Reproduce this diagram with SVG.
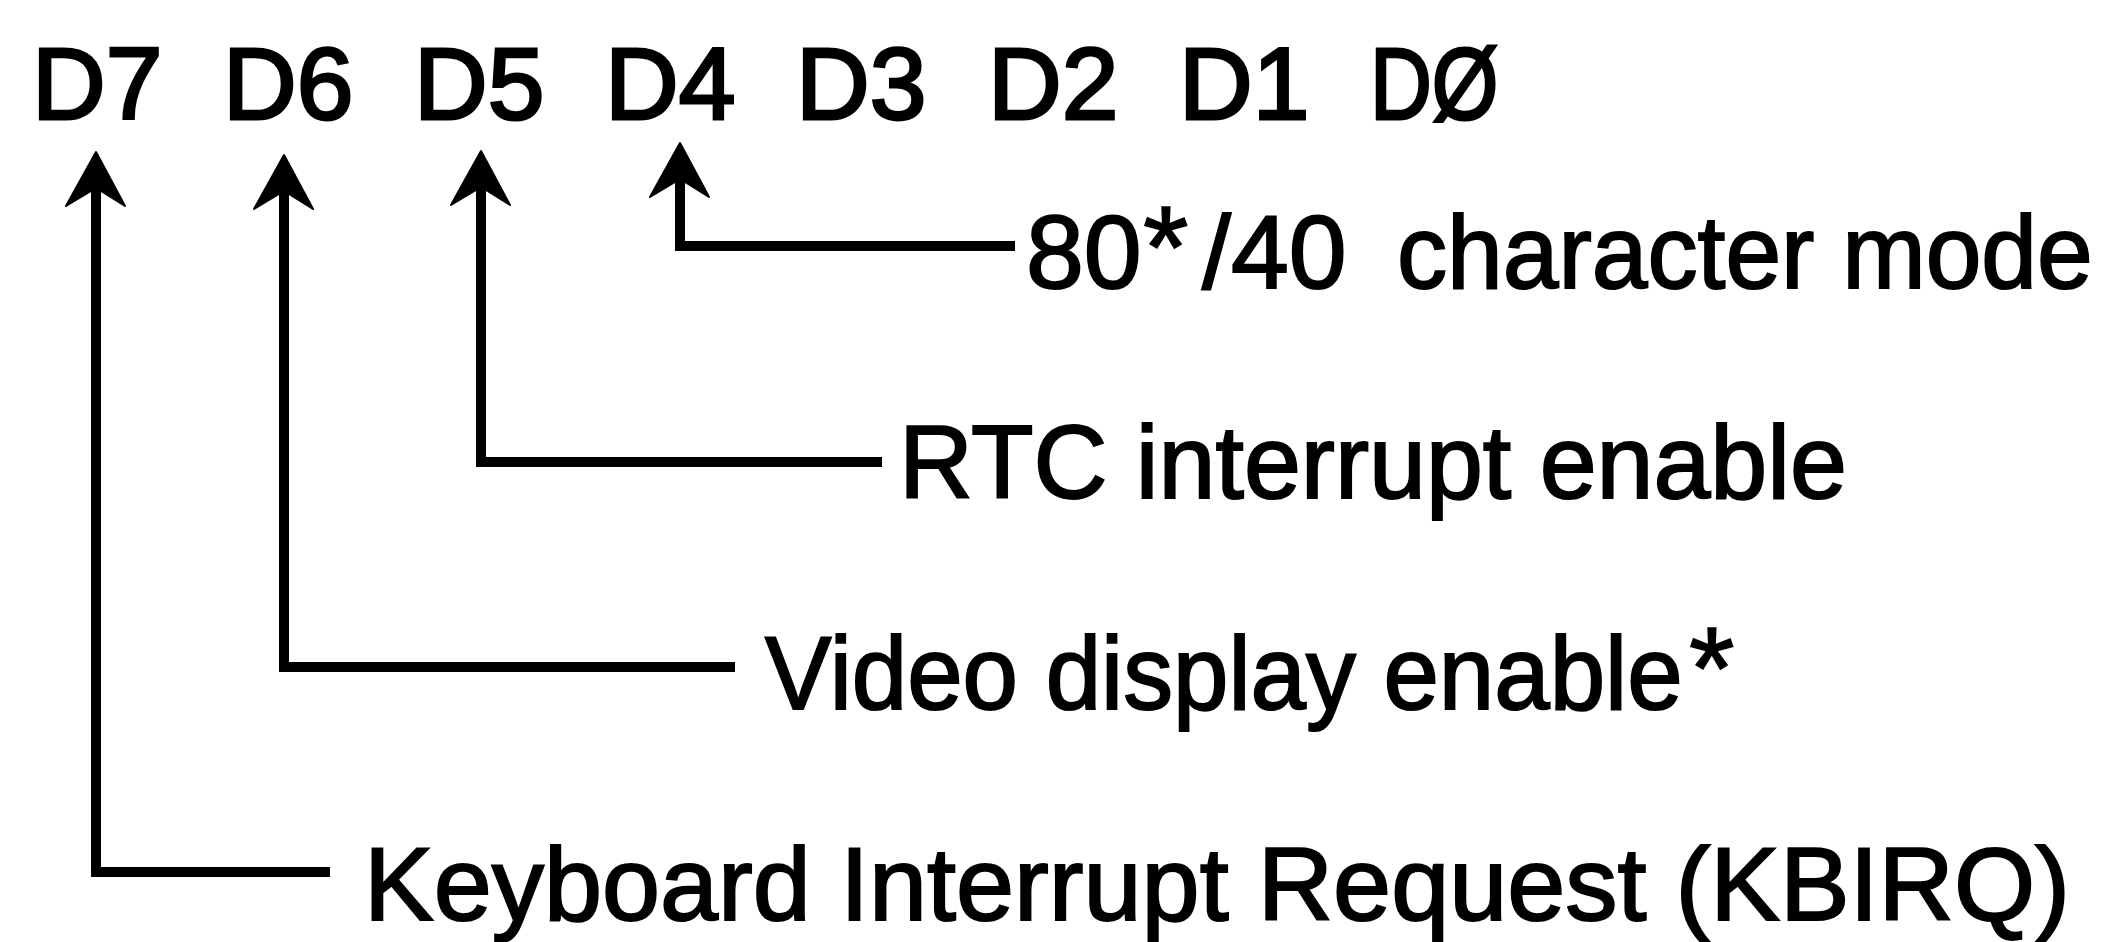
<svg xmlns="http://www.w3.org/2000/svg" xmlns:xlink="http://www.w3.org/1999/xlink" width="2106" height="942" viewBox="0 0 2106 942">
  <style>
    .conn { fill: none; stroke: #000; stroke-width: 10; stroke-linejoin: miter; stroke-linecap: butt; }
    .head { fill: #000; stroke: #000; stroke-width: 2; stroke-linejoin: round; }
    .hdr { font-family: "Liberation Sans", Arial, Helvetica, sans-serif; font-size: 102px; fill: #000; stroke: #000; stroke-width: 3; }
    .lbl { font-family: "Liberation Sans", Arial, Helvetica, sans-serif; font-size: 104px; fill: #000; stroke: #000; stroke-width: 2; }
    .ast { font-family: "Liberation Sans", Arial, Helvetica, sans-serif; font-size: 117px; fill: #000; stroke: #000; stroke-width: 1.5; }
  </style>
  <defs>
    <path id="ah" d="M0,0 L29,54 L5,39 L-5,39 L-30,54 Z"/>
  </defs>
  <rect x="0" y="0" width="2106" height="942" fill="#fff"/>

  <g id="bits">
    <g id="bit-d7"><text class="hdr" x="32" y="119">D7</text></g>
    <g id="bit-d6"><text class="hdr" x="223" y="119">D6</text></g>
    <g id="bit-d5"><text class="hdr" x="414" y="119">D5</text></g>
    <g id="bit-d4"><text class="hdr" x="605" y="119">D4</text></g>
    <g id="bit-d3"><text class="hdr" x="796" y="119">D3</text></g>
    <g id="bit-d2"><text class="hdr" x="988" y="119">D2</text></g>
    <g id="bit-d1"><text class="hdr" x="1179" y="119">D1</text></g>
    <g id="bit-d0"><text class="hdr" transform="translate(1370,119) scale(0.84,1)" x="0" y="0">DØ</text></g>
  </g>

  <g id="connectors">
    <path class="conn" d="M96,190 V872 H330"/>
    <path class="conn" d="M284,193 V667 H735"/>
    <path class="conn" d="M481,189 V462 H882"/>
    <path class="conn" d="M680,181 V246 H1015"/>
    <use href="#ah" xlink:href="#ah" class="head" x="96" y="152"/>
    <use href="#ah" xlink:href="#ah" class="head" x="284" y="155"/>
    <use href="#ah" xlink:href="#ah" class="head" x="481" y="151"/>
    <use href="#ah" xlink:href="#ah" class="head" x="680" y="143"/>
  </g>

  <g id="label-d4">
    <text class="lbl" x="1026" y="288">80</text>
    <text class="ast" x="1143" y="288">*</text>
    <text class="lbl" x="1202" y="288">/40</text>
    <text class="lbl" transform="translate(1397,288) scale(0.963,1)" x="0" y="0">character mode</text>
  </g>

  <g id="label-d5">
    <text class="lbl" transform="translate(899,498) scale(0.984,1)" x="0" y="0">RTC interrupt enable</text>
  </g>

  <g id="label-d6">
    <text class="lbl" transform="translate(765,709) scale(0.958,1)" x="0" y="0">Video display enable</text>
    <text class="ast" x="1689" y="709">*</text>
  </g>

  <g id="label-d7">
    <text class="lbl" transform="translate(364,920) scale(1.004,1)" x="0" y="0">Keyboard Interrupt Request (KBIRQ)</text>
  </g>
</svg>
